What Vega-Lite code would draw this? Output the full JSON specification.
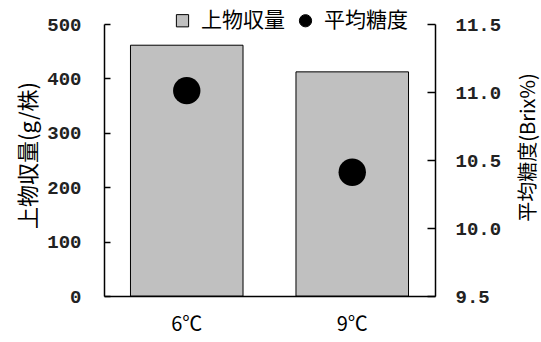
{
  "$schema": "https://vega.github.io/schema/vega-lite/v6.json",
  "autosize": {"type": "none"},
  "padding": {"left": 104, "top": 24, "right": 106, "bottom": 46},
  "width": 331,
  "height": 272,
  "background": "white",
  "data": {
    "values": [
      {"temp": "6℃", "series": "上物収量", "value": 461},
      {"temp": "9℃", "series": "上物収量", "value": 412},
      {"temp": "6℃", "series": "平均糖度", "value": 11.01},
      {"temp": "9℃", "series": "平均糖度", "value": 10.41}
    ]
  },
  "encoding": {
    "x": {
      "field": "temp",
      "type": "nominal",
      "sort": ["6℃", "9℃"],
      "scale": {"paddingInner": 0.32, "paddingOuter": 0.16},
      "axis": {
        "title": null,
        "labelAngle": 0,
        "ticks": false,
        "labelPadding": 18,
        "labelFont": "Noto Sans CJK JP",
        "labelFontSize": 20,
        "labelColor": "black",
        "domainColor": "black",
        "domainWidth": 1.5
      }
    },
    "color": {
      "field": "series",
      "type": "nominal",
      "scale": {"domain": ["上物収量", "平均糖度"], "range": ["#c0c0c0", "black"]},
      "legend": {
        "title": null,
        "orient": "none",
        "legendX": 68,
        "legendY": -14,
        "direction": "horizontal",
        "labelFont": "Noto Sans CJK JP",
        "labelFontSize": 21,
        "labelColor": "black",
        "symbolSize": 150,
        "symbolStrokeColor": "black",
        "symbolStrokeWidth": 1,
        "symbolOpacity": 1,
        "columnPadding": 10,
        "labelOffset": 8,
        "fillColor": "white",
        "encode": {"symbols": {"update": {"stroke": {"value": "black"}, "strokeWidth": {"value": 1}}}}
      }
    }
  },
  "layer": [
    {
      "transform": [{"filter": "datum.series === '上物収量'"}],
      "mark": {"type": "bar", "stroke": "black", "strokeWidth": 1},
      "encoding": {
        "y": {
          "field": "value",
          "type": "quantitative",
          "scale": {"domain": [0, 500], "nice": false},
          "axis": {
            "title": "上物収量(g/株)",
            "titleFont": "Noto Sans CJK JP",
            "titleFontSize": 22,
            "titleFontWeight": "normal",
            "titleColor": "black",
            "titlePadding": 6,
            "titleY": 131,
            "values": [0, 100, 200, 300, 400, 500],
            "grid": false,
            "tickSize": -6,
            "tickColor": "black",
            "tickWidth": 1.5,
            "domainColor": "black",
            "domainWidth": 1.5,
            "labelFont": "Liberation Mono",
            "labelFontSize": 19,
            "labelFontWeight": "bold",
            "labelColor": "#222",
            "labelPadding": 29
          }
        }
      }
    },
    {
      "transform": [{"filter": "datum.series === '平均糖度'"}],
      "mark": {"type": "point", "filled": true, "opacity": 1, "size": 750},
      "encoding": {
        "y": {
          "field": "value",
          "type": "quantitative",
          "scale": {"domain": [9.5, 11.5], "nice": false, "zero": false},
          "axis": {
            "orient": "right",
            "title": "平均糖度(Brix%)",
            "titleAngle": 270,
            "titleFont": "Noto Sans CJK JP",
            "titleFontSize": 20,
            "titleFontWeight": "normal",
            "titleColor": "black",
            "titlePadding": 38,
            "titleY": 123,
            "values": [9.5, 10, 10.5, 11, 11.5],
            "format": ".1f",
            "grid": false,
            "tickSize": -8,
            "tickColor": "black",
            "tickWidth": 1.5,
            "domainColor": "black",
            "domainWidth": 1.5,
            "labelFont": "Liberation Mono",
            "labelFontSize": 19,
            "labelFontWeight": "bold",
            "labelColor": "#222",
            "labelPadding": 28
          }
        },
        "shape": {
          "field": "series",
          "type": "nominal",
          "scale": {"domain": ["上物収量", "平均糖度"], "range": ["square", "circle"]},
          "legend": {
            "title": null,
            "orient": "none",
            "legendX": 68,
            "legendY": -14,
            "direction": "horizontal",
            "labelFont": "Noto Sans CJK JP",
            "labelFontSize": 21,
            "labelColor": "black",
            "symbolSize": 150,
            "symbolStrokeColor": "black",
            "symbolStrokeWidth": 1,
            "symbolOpacity": 1,
            "columnPadding": 10,
            "labelOffset": 8,
            "fillColor": "white",
            "encode": {"symbols": {"update": {"stroke": {"value": "black"}, "strokeWidth": {"value": 1}}}}
          }
        }
      }
    }
  ],
  "resolve": {"scale": {"y": "independent"}},
  "config": {"view": {"stroke": null}}
}
